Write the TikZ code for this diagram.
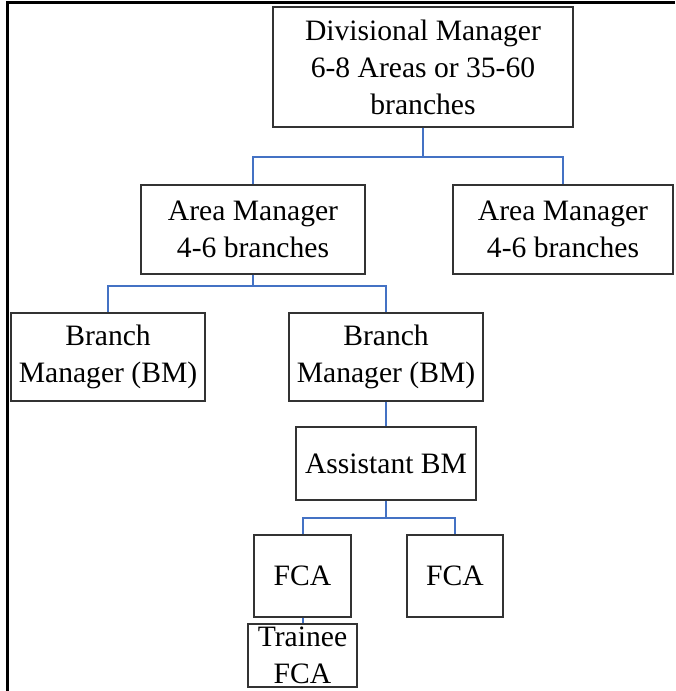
\documentclass[tikz,border=0pt]{standalone}
\usepackage{fontspec}
\setmainfont{Liberation Serif}
\definecolor{linkblue}{RGB}{68,114,196}
\tikzset{
  box/.style={draw=black!80, line width=1.1pt, align=center, inner sep=0pt,
    font=\fontsize{29.6}{37}\selectfont},
  link/.style={draw=linkblue, line width=2pt}
}
\begin{document}
\begin{tikzpicture}[x=1pt, y=-1pt]
  \useasboundingbox (0,0) rectangle (675,691);
  % page frame
  \draw[line width=3pt] (7.5,691) -- (7.5,2.5) -- (675,2.5);
  % boxes
  \node[box, minimum width=300pt, minimum height=120pt] (div) at (423,67)
    {Divisional Manager\\6-8 Areas or 35-60\\branches};
  \node[box, minimum width=224pt, minimum height=89pt] (areaL) at (253,229.5)
    {Area Manager\\4-6 branches};
  \node[box, minimum width=220pt, minimum height=89pt] (areaR) at (563,229.5)
    {Area Manager\\4-6 branches};
  \node[box, minimum width=194pt, minimum height=88pt] (bmL) at (108,357)
    {Branch\\Manager (BM)};
  \node[box, minimum width=194pt, minimum height=88pt] (bmR) at (386,357)
    {Branch\\Manager (BM)};
  \node[box, minimum width=180pt, minimum height=73pt] (asst) at (386,463.5)
    {Assistant BM};
  \node[box, minimum width=97pt, minimum height=82pt] (fcaL) at (302.5,576)
    {FCA};
  \node[box, minimum width=96pt, minimum height=82pt] (fcaR) at (455,576)
    {FCA};
  \node[box, minimum width=109pt, minimum height=63pt] (trainee) at (302.5,655.5)
    {Trainee\\FCA};
  % connectors
  \draw[link] (div.south) -- ++(0,29) -| (areaL.north);
  \draw[link] (div.south) -- ++(0,29) -| (areaR.north);
  \draw[link] (areaL.south) -- ++(0,11) -| (bmL.north);
  \draw[link] (areaL.south) -- ++(0,11) -| (bmR.north);
  \draw[link] (bmR.south) -- (asst.north);
  \draw[link] (asst.south) -- ++(0,17) -| (fcaL.north);
  \draw[link] (asst.south) -- ++(0,17) -| (fcaR.north);
  \draw[link] (fcaL.south) -- (trainee.north);
\end{tikzpicture}
\end{document}
